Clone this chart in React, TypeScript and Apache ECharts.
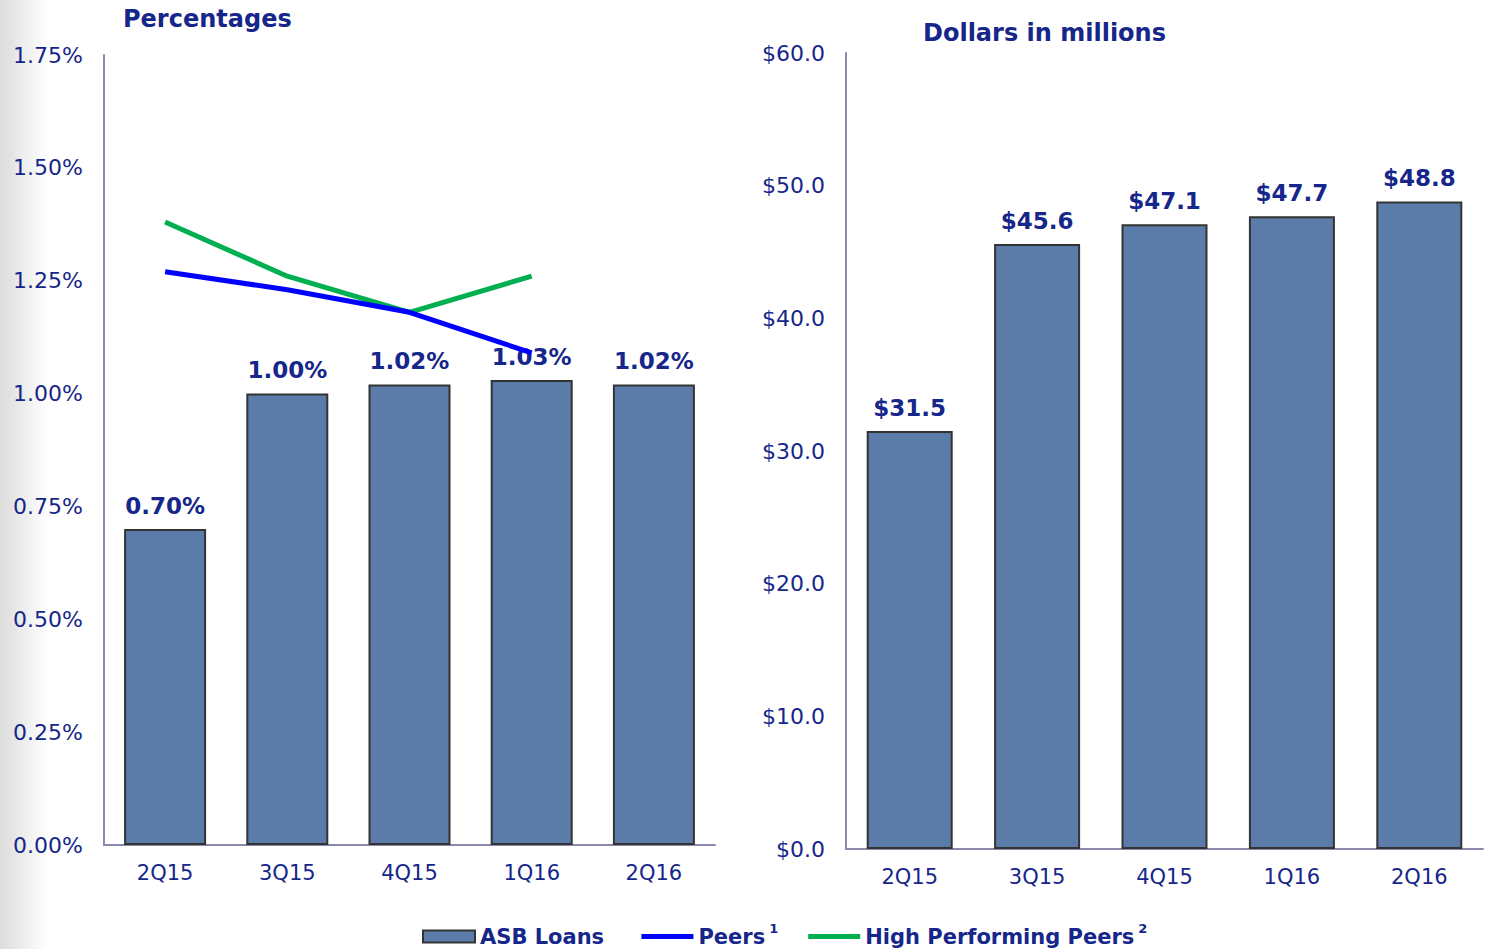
import React, { useEffect, useRef } from "react";
import * as echarts from "echarts";

const categories = ["2Q15", "3Q15", "4Q15", "1Q16", "2Q16"];
const asbLoansPct = [0.7, 1.0, 1.02, 1.03, 1.02];
const peersPct = [1.27, 1.23, 1.18, 1.09, null];
const highPerfPeersPct = [1.38, 1.26, 1.18, 1.26, null];
const asbLoansDollars = [31.5, 45.6, 47.1, 47.7, 48.8];

const NAVY = "#16268a";
const AXIS = "#8a88ad";
const BAR = "#5b7ca8";
const FONT = "DejaVu Sans";

export default function App() {
  const ref = useRef<HTMLDivElement>(null);
  useEffect(() => {
    if (!ref.current) return;
    const chart = echarts.init(ref.current, null, { renderer: "svg" });
    const axisLabel = { color: NAVY, fontFamily: FONT, fontSize: 21 };
    const barLabel = {
      show: true,
      position: "top",
      distance: 12,
      color: NAVY,
      fontFamily: FONT,
      fontWeight: "bold",
      fontSize: 23,
    };
    const lineIcon = "path://M0,0h52v5h-52z";
    chart.setOption({
      animation: false,
      backgroundColor: "#ffffff",
      graphic: [
        {
          type: "rect",
          shape: { x: 0, y: 0, width: 48, height: 949 },
          style: {
            fill: new echarts.graphic.LinearGradient(0, 0, 1, 0, [
              { offset: 0, color: "#dcdcdc" },
              { offset: 1, color: "#ffffff" },
            ]),
          },
          z: -10,
        },
      ],
      title: [
        {
          text: "Percentages",
          left: 118,
          top: 2,
          textStyle: { color: NAVY, fontFamily: FONT, fontWeight: "bold", fontSize: 24 },
        },
        {
          text: "Dollars in millions",
          left: 918,
          top: 16,
          textStyle: { color: NAVY, fontFamily: FONT, fontWeight: "bold", fontSize: 24 },
        },
      ],
      legend: {
        left: 417,
        top: 917,
        itemWidth: 52,
        itemHeight: 12,
        itemGap: 30,
        data: [
          { name: "ASB Loans", icon: "rect" },
          { name: "Peers", icon: lineIcon, itemStyle: { color: "#0000ff" } },
          { name: "High Performing Peers", icon: lineIcon, itemStyle: { color: "#00b050" } },
        ],
        formatter: (name: string) => {
          if (name === "Peers") return "{n|Peers}{s|1}";
          if (name === "High Performing Peers") return "{n|High Performing Peers}{s|2}";
          return "{n|" + name + "}{g| }";
        },
        textStyle: {
          color: NAVY,
          fontFamily: FONT,
          fontWeight: "bold",
          fontSize: 21,
          rich: {
            n: { color: NAVY, fontFamily: FONT, fontWeight: "bold", fontSize: 21 },
            g: { fontSize: 21, width: 10 },
            s: { color: NAVY, fontFamily: FONT, fontSize: 13, padding: [0, 0, 16, 4] },
          },
        },
      },
      grid: [
        { left: 104, top: 55, width: 611, height: 790 },
        { left: 846, top: 53, width: 637, height: 796 },
      ],
      xAxis: [
        {
          gridIndex: 0,
          type: "category",
          data: categories,
          axisLine: { lineStyle: { color: AXIS, width: 2 } },
          axisTick: { show: false },
          axisLabel: { ...axisLabel, margin: 17 },
        },
        {
          gridIndex: 1,
          type: "category",
          data: categories,
          axisLine: { lineStyle: { color: AXIS, width: 2 } },
          axisTick: { show: false },
          axisLabel: { ...axisLabel, margin: 17 },
        },
      ],
      yAxis: [
        {
          gridIndex: 0,
          type: "value",
          min: 0,
          max: 1.75,
          interval: 0.25,
          axisLine: { show: true, lineStyle: { color: AXIS, width: 2 } },
          axisTick: { show: false },
          splitLine: { show: false },
          axisLabel: { ...axisLabel, fontSize: 22, margin: 21, formatter: (v: number) => v.toFixed(2) + "%" },
        },
        {
          gridIndex: 1,
          type: "value",
          min: 0,
          max: 60,
          interval: 10,
          axisLine: { show: true, lineStyle: { color: AXIS, width: 2 } },
          axisTick: { show: false },
          splitLine: { show: false },
          axisLabel: { ...axisLabel, fontSize: 22, margin: 21, formatter: (v: number) => "$" + v.toFixed(1) },
        },
      ],
      series: [
        {
          name: "ASB Loans",
          type: "bar",
          xAxisIndex: 0,
          yAxisIndex: 0,
          data: asbLoansPct,
          barWidth: 82,
          itemStyle: { color: BAR, borderColor: "#333333", borderWidth: 2 },
          label: { ...barLabel, formatter: (p: any) => p.value.toFixed(2) + "%" },
          z: 2,
        },
        {
          name: "Peers",
          type: "line",
          xAxisIndex: 0,
          yAxisIndex: 0,
          data: peersPct,
          symbol: "none",
          lineStyle: { color: "#0000ff", width: 5 },
          itemStyle: { color: "#0000ff" },
          z: 5,
        },
        {
          name: "High Performing Peers",
          type: "line",
          xAxisIndex: 0,
          yAxisIndex: 0,
          data: highPerfPeersPct,
          symbol: "none",
          lineStyle: { color: "#00b050", width: 5 },
          itemStyle: { color: "#00b050" },
          z: 4,
        },
        {
          name: "ASB Loans",
          type: "bar",
          xAxisIndex: 1,
          yAxisIndex: 1,
          data: asbLoansDollars,
          barWidth: 86,
          itemStyle: { color: BAR, borderColor: "#333333", borderWidth: 2 },
          label: { ...barLabel, formatter: (p: any) => "$" + p.value.toFixed(1) },
        },
      ],
    });
    return () => chart.dispose();
  }, []);
  return (
    <div
      ref={ref}
      style={{ position: "fixed", left: 0, top: 0, width: 1487, height: 949 }}
    />
  );
}
